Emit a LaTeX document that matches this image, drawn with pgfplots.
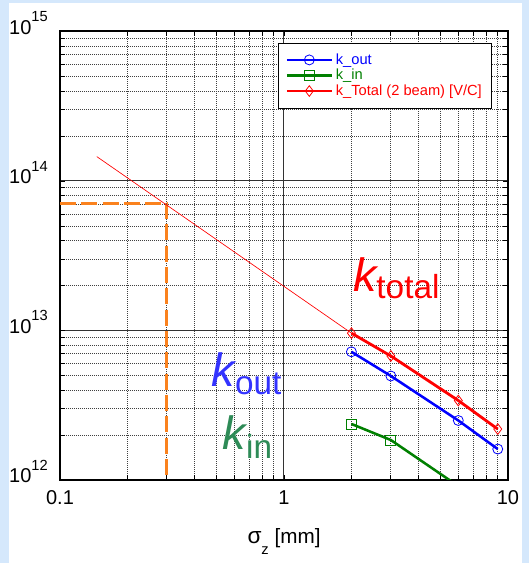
\documentclass[border=0pt]{standalone}
\usepackage{pgfplots}
\pgfplotsset{compat=1.18}
\usepackage{fontspec}
\setmainfont{Liberation Sans}
\definecolor{bgblue}{RGB}{213,232,252}
\definecolor{korange}{RGB}{250,130,30}
\definecolor{kgreen}{RGB}{0,128,0}
\definecolor{seagreen}{RGB}{46,139,87}
\definecolor{koutblue}{RGB}{51,51,255}
\newcommand{\tenpow}[1]{10\raisebox{9.5pt}{\fontsize{11}{11}\selectfont #1}}

\begin{document}
\begin{tikzpicture}
% page background: light blue frame round a white sheet
\fill[bgblue] (-45pt,-62.25pt) rectangle (351.75pt,360pt);
\fill[white] (-38.6pt,-62.25pt) rectangle (346.7pt,357.5pt);
\begin{axis}[
  width=336pt, height=336.4pt, scale only axis,
  xmode=log, ymode=log,
  xmin=0.1, xmax=10, ymin=1e12, ymax=1e15,
  xtick={0.1,1,10}, xticklabels={0.1,1,10},
  ytick={1e12,1e13,1e14,1e15},
  yticklabels={\tenpow{12},\tenpow{13},\tenpow{14},\tenpow{15}},
  minor xtick={0.2,0.3,0.4,0.5,0.6,0.7,0.8,0.9,2,3,4,5,6,7,8,9},
  minor ytick={2e12,3e12,4e12,5e12,6e12,7e12,8e12,9e12,
               2e13,3e13,4e13,5e13,6e13,7e13,8e13,9e13,
               2e14,3e14,4e14,5e14,6e14,7e14,8e14,9e14},
  grid=both,
  major grid style={black!80, line width=0.75pt},
  minor grid style={black!75, line width=0.6pt, dash pattern=on 0.75pt off 0.75pt},
  tick align=inside,
  major tick length=3.75pt, minor tick length=3.75pt,
  tick style={black, line width=0.6pt},
  axis line style={line width=1.5pt},
  ticklabel style={font=\fontsize{15}{17}\selectfont, inner sep=0pt},
  xticklabel style={anchor=base, yshift=-18.75pt},
  yticklabel style={anchor=base east, xshift=-9pt, yshift=-2.25pt},
  xlabel={{\fontsize{17}{17}\selectfont σ}\raisebox{-0.55em}{\fontsize{11}{11}\selectfont z} [mm]},
  xlabel style={at={(axis description cs:0.5,-0.1406)}, anchor=base, font=\fontsize{15.5}{17}\selectfont},
  legend style={at={(0.963,0.975)}, anchor=north east, draw=black, fill=white,
    font=\fontsize{11}{13}\selectfont, row sep=-1.8pt, inner xsep=5pt, inner ysep=6pt},
  legend cell align=left,
  legend image code/.code={\draw[mark repeat=2,mark phase=2,#1]
    plot coordinates {(0pt,0pt) (16.9pt,0pt) (33.8pt,0pt)};},
]
% read-off lines
\addplot[korange, line width=2.2pt, dash pattern=on 12pt off 4pt, forget plot]
  coordinates {(0.1,7.1e13) (0.3,7.1e13) (0.3,1e12)};
\addplot[red, line width=0.5pt, forget plot]
  coordinates {(0.146,1.455e14) (2,9.6e12)};

\addplot[blue, line width=1.9pt, mark=o, mark size=3.75pt, mark options={solid, line width=0.6pt}]
  coordinates {(2,7.2e12) (3,4.96e12) (6,2.5e12) (9,1.61e12)};
\addlegendentry{\textcolor{blue}{k\_out}}
\addplot[kgreen, line width=1.9pt, mark=square, mark size=3.75pt, mark options={solid, line width=0.6pt}]
  coordinates {(2,2.37e12) (3,1.85e12) (6,0.91e12)};
\addlegendentry{\textcolor{kgreen}{k\_in}}
\addplot[red, line width=2.1pt, mark=diamond, mark size=4pt, mark options={solid, line width=0.6pt}]
  coordinates {(2,9.6e12) (3,6.75e12) (6,3.4e12) (9,2.19e12)};
\addlegendentry{\textcolor{red}{k\_Total (2 beam) [V/C]}}

\node[anchor=base west, inner sep=0pt, red] at (axis cs:2.03,1.81e13)
  {{\fontsize{35}{35}\selectfont\itshape k}\raisebox{-5.25pt}{\fontsize{25}{25}\selectfont total}};
\node[anchor=base west, inner sep=0pt, koutblue] at (axis cs:0.475,4.21e12)
  {{\fontsize{35}{35}\selectfont\itshape k}\raisebox{-6pt}{\fontsize{25}{25}\selectfont out}};
\node[anchor=base west, inner sep=0pt, seagreen] at (axis cs:0.532,1.61e12)
  {{\fontsize{35}{35}\selectfont\itshape k}\raisebox{-7pt}{\fontsize{25}{25}\selectfont in}};
\end{axis}
\pgfresetboundingbox
\path[use as bounding box] (-45pt,-62.25pt) rectangle (351.75pt,360pt);
\end{tikzpicture}
\end{document}
